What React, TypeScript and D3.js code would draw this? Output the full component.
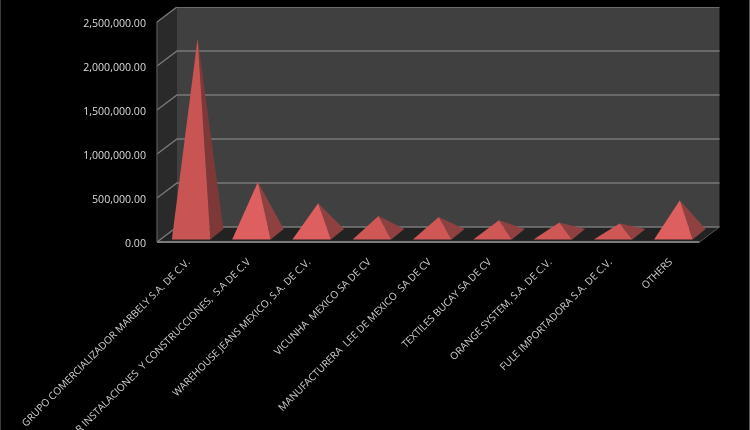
import * as d3 from "d3";

const WIDTH = 750;
const HEIGHT = 430;

const CATEGORIES = [
  "GRUPO COMERCIALIZADOR MARBELY S.A. DE C.V.",
  "R INSTALACIONES  Y CONSTRUCCIONES,  S.A DE C.V",
  "WAREHOUSE JEANS MEXICO, S.A. DE C.V.",
  "VICUNHA  MEXICO SA DE CV",
  "MANUFACTURERA  LEE DE MEXICO  SA DE CV",
  "TEXTILES BUCAY SA DE CV",
  "ORANGE SYSTEM, S.A. DE C.V.",
  "FULE IMPORTADORA S.A. DE C.V.",
  "OTHERS",
];
const VALUES = [2227000, 594000, 352000, 208000, 197000, 159000, 133000, 122000, 386000];
const Y_TICKS = [0, 500000, 1000000, 1500000, 2000000, 2500000];

// Plot box on the front plane, and how far the back wall is pushed away from it.
const FRONT = { left: 157, right: 699.5, top: 22, bottom: 242 };
const DEPTH = { x: 20, y: -15 };
// Pyramids sit on the floor, inset from its front edge.
const BASE_WIDTH = 38.5;
const BASE_INSET = { x: 4, y: -2.5 };
const BASE_DEPTH = { x: 13, y: -10.5 };

const x = d3.scaleBand<string>().domain(CATEGORIES).range([FRONT.left, FRONT.right]);
const y = d3.scaleLinear().domain([0, 2500000]).range([FRONT.bottom, FRONT.top]);
const poly = d3.line();
const fmt = d3.format(",.2f");

function Pyramid({ name, value }: { name: string; value: number }) {
  const cx = (x(name) as number) + x.bandwidth() / 2 + BASE_INSET.x;
  const y0 = FRONT.bottom + BASE_INSET.y;
  const l = cx - BASE_WIDTH / 2;
  const r = cx + BASE_WIDTH / 2;
  const apex: [number, number] = [
    cx + BASE_DEPTH.x / 2,
    y(value) + BASE_INSET.y + BASE_DEPTH.y / 2,
  ];
  const tall = value > 1000000;
  const small = value < 300000;
  const front = tall ? "#c85552" : small ? "#cf5856" : "#de5f5e";
  const side = tall ? "#7f3837" : "#8f403f";
  return (
    <g>
      <path d={poly([[r, y0], [r + BASE_DEPTH.x, y0 + BASE_DEPTH.y], apex])! + "Z"} fill={side} />
      <path d={poly([[l, y0], [r, y0], apex])! + "Z"} fill={front} />
    </g>
  );
}

export default function App() {
  return (
    <svg
      width={WIDTH}
      height={HEIGHT}
      viewBox={`0 0 ${WIDTH} ${HEIGHT}`}
      style={{ position: "absolute", left: 0, top: 0, background: "#000", display: "block" }}
    >
      <defs>
        <filter id="soft" x="0" y="0" width="100%" height="100%">
          <feGaussianBlur stdDeviation="0.35" />
        </filter>
      </defs>
      <g filter="url(#soft)">
        {/* back wall */}
        <rect
          x={FRONT.left + DEPTH.x}
          y={FRONT.top + DEPTH.y}
          width={FRONT.right - FRONT.left}
          height={FRONT.bottom - FRONT.top}
          fill="#404040"
        />
        {/* left wall */}
        <path
          d={
            poly([
              [FRONT.left, FRONT.top],
              [FRONT.left + DEPTH.x, FRONT.top + DEPTH.y],
              [FRONT.left + DEPTH.x, FRONT.bottom + DEPTH.y],
              [FRONT.left, FRONT.bottom],
            ])! + "Z"
          }
          fill="#2b2b2b"
        />
        {/* floor */}
        <path
          d={
            poly([
              [FRONT.left, FRONT.bottom],
              [FRONT.left + DEPTH.x, FRONT.bottom + DEPTH.y],
              [FRONT.right + DEPTH.x, FRONT.bottom + DEPTH.y],
              [FRONT.right, FRONT.bottom],
            ])! + "Z"
          }
          fill="#242424"
        />
        {/* gridlines run along the left wall and across the back wall */}
        {Y_TICKS.map((t) => (
          <path
            key={t}
            d={
              poly([
                [FRONT.left, y(t)],
                [FRONT.left + DEPTH.x, y(t) + DEPTH.y],
                [FRONT.right + DEPTH.x, y(t) + DEPTH.y],
              ])!
            }
            fill="none"
            stroke="#7a7a7a"
            strokeWidth={1.3}
          />
        ))}
        <line
          x1={FRONT.left}
          x2={FRONT.left}
          y1={FRONT.top}
          y2={FRONT.bottom}
          stroke="#5c5c5c"
          strokeWidth={1.2}
        />
        <line
          x1={FRONT.left}
          x2={FRONT.right}
          y1={FRONT.bottom}
          y2={FRONT.bottom}
          stroke="#7a7a7a"
          strokeWidth={1.8}
        />
        <line
          x1={FRONT.right}
          x2={FRONT.right + DEPTH.x}
          y1={FRONT.bottom}
          y2={FRONT.bottom + DEPTH.y}
          stroke="#555"
          strokeWidth={1}
        />
        {CATEGORIES.map((c, i) => (
          <Pyramid key={c} name={c} value={VALUES[i]} />
        ))}
        {Y_TICKS.map((t) => (
          <text
            key={t}
            x={146}
            y={y(t) + 2}
            dy="0.32em"
            textAnchor="end"
            fill="#dcdcdc"
            fontFamily="'Open Sans', sans-serif"
            fontSize={10.6}
          >
            {fmt(t)}
          </text>
        ))}
        {CATEGORIES.map((c) => {
          const tx = (x(c) as number) + x.bandwidth() / 2 + 3.5;
          return (
            <text
              key={c}
              transform={`translate(${tx},262.5) rotate(-45)`}
              textAnchor="end"
              fill="#d0d0d0"
              fontFamily="'Open Sans', sans-serif"
              fontSize={10.1}
              style={{ whiteSpace: "pre" }}
            >
              {c}
            </text>
          );
        })}
      </g>
      {/* thin grey edges left by the original screenshot */}
      <rect x={0} y={0} width={1} height={HEIGHT} fill="#3c3c3c" />
      <rect x={WIDTH - 1} y={0} width={1} height={HEIGHT} fill="#5a5a5a" />
    </svg>
  );
}
